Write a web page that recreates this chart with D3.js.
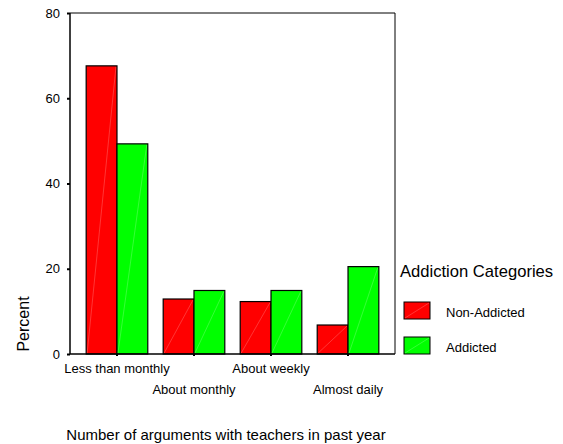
<!DOCTYPE html>
<html><head><meta charset="utf-8">
<script src="https://cdn.jsdelivr.net/npm/d3@7"></script>
<style>body{margin:0;background:#fff}svg{display:block;font-family:Arial,"Liberation Sans",sans-serif}</style>
</head><body>
<svg id="c" width="563" height="444"></svg>
<script>
const categories = ["Less than monthly","About monthly","About weekly","Almost daily"];
const seriesNames = ["Non-Addicted","Addicted"];
const nonAddicted = [67.6, 12.9, 12.3, 6.8];
const addicted = [49.3, 14.9, 14.9, 20.5];
const yTicks = [0,20,40,60,80];
const colors = ["#ff0000","#00ff00"];

const svg = d3.select("#c");
const FONT = "Arial,'Liberation Sans',sans-serif";
const L=70, R=395, T=13, B=354;
const y = d3.scaleLinear().domain([0,80]).range([B,T]);
const x = d3.scaleBand().domain(categories).range([L,R]).paddingInner(0.2).paddingOuter(0.21);
const xs = d3.scaleBand().domain(seriesNames).range([0,x.bandwidth()]);
const series = [nonAddicted, addicted];

// frame top/right
svg.append("path").attr("d",`M${L},${T}H${R}V${B}`).attr("fill","none").attr("stroke","#000").attr("stroke-width",1);

// bars
categories.forEach((c,i)=>{
  seriesNames.forEach((s,j)=>{
    const v = series[j][i];
    const x0 = x(c)+xs(s), w = xs.bandwidth();
    svg.append("rect").attr("x",x0).attr("y",y(v)).attr("width",w).attr("height",y(0)-y(v))
      .attr("fill",colors[j]).attr("stroke","#000").attr("stroke-width",1.2);
    svg.append("line").attr("x1",x0+1).attr("y1",y(0)-1).attr("x2",x0+w-1).attr("y2",y(v)+1)
      .attr("stroke","#fff").attr("stroke-opacity",0.35).attr("stroke-width",0.6);
  });
});

// y axis
const ya = svg.append("g").attr("transform",`translate(${L},0)`)
  .call(d3.axisLeft(y).tickValues(yTicks).tickSize(3).tickPadding(7));
ya.select(".domain").attr("stroke","#000").attr("stroke-width",1.5).attr("d",`M0,${T}V${B}`);
ya.selectAll(".tick line").attr("stroke","#000").attr("stroke-width",2);
ya.selectAll("text").attr("font-size",13).attr("fill","#000").attr("font-family",FONT);

// x axis
const xa = svg.append("g").attr("transform",`translate(0,${B})`)
  .call(d3.axisBottom(x).tickSize(2).tickPadding(5));
xa.select(".domain").attr("stroke","#000").attr("stroke-width",1.5).attr("d",`M${L},0H${R}`);
xa.selectAll(".tick line").attr("stroke","#000").attr("stroke-width",2);
xa.selectAll("text").attr("font-size",13).attr("fill","#000").attr("font-family",FONT)
  .attr("dy",null).attr("y",(d,i)=> i%2===0 ? 19 : 40);

// axis titles
svg.append("text").attr("transform",`translate(29,${324}) rotate(-90)`).attr("text-anchor","middle")
  .attr("font-size",16).text("Percent");
svg.append("text").attr("x",226).attr("y",440).attr("text-anchor","middle")
  .attr("font-size",15).text("Number of arguments with teachers in past year");

// legend
const lg = svg.append("g");
lg.append("text").attr("x",400).attr("y",277).attr("font-size",16.6).text("Addiction Categories");
seriesNames.forEach((s,j)=>{
  const yy = 302 + j*35;
  lg.append("rect").attr("x",404).attr("y",yy).attr("width",26).attr("height",17)
    .attr("fill",colors[j]).attr("stroke","#000").attr("stroke-width",1);
  lg.append("line").attr("x1",405).attr("y1",yy+16).attr("x2",429).attr("y2",yy+1)
    .attr("stroke","#fff").attr("stroke-opacity",0.35).attr("stroke-width",0.6);
  lg.append("text").attr("x",446).attr("y",yy+14.5).attr("font-size",13).text(s);
});
</script>
</body></html>
